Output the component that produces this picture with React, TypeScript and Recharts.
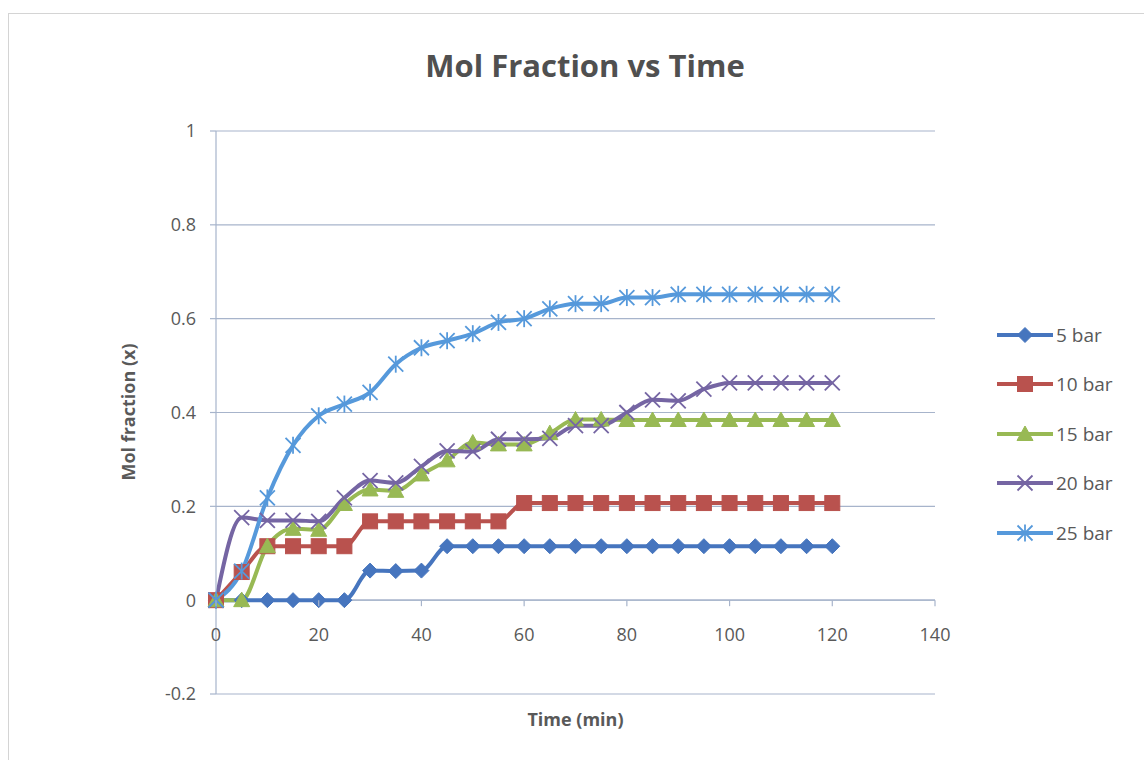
import React from 'react';
import { LineChart, Line, XAxis, YAxis, CartesianGrid, ReferenceLine } from 'recharts';

const TIME = [0, 5, 10, 15, 20, 25, 30, 35, 40, 45, 50, 55, 60, 65, 70, 75, 80, 85, 90, 95, 100, 105, 110, 115, 120];
const BAR5 = [0, 0, 0, 0, 0, 0, 0.063, 0.062, 0.063, 0.115, 0.115, 0.115, 0.115, 0.115, 0.115, 0.115, 0.115, 0.115, 0.115, 0.115, 0.115, 0.115, 0.115, 0.115, 0.115];
const BAR10 = [0, 0.06, 0.115, 0.115, 0.115, 0.115, 0.168, 0.168, 0.168, 0.168, 0.168, 0.168, 0.207, 0.207, 0.207, 0.207, 0.207, 0.207, 0.207, 0.207, 0.207, 0.207, 0.207, 0.207, 0.207];
const BAR15 = [0, 0, 0.115, 0.152, 0.15, 0.205, 0.236, 0.233, 0.268, 0.298, 0.336, 0.332, 0.332, 0.356, 0.385, 0.385, 0.384, 0.384, 0.384, 0.384, 0.384, 0.384, 0.384, 0.384, 0.384];
const BAR20 = [0, 0.176, 0.17, 0.17, 0.168, 0.218, 0.255, 0.25, 0.285, 0.318, 0.317, 0.343, 0.343, 0.345, 0.372, 0.372, 0.4, 0.427, 0.425, 0.45, 0.463, 0.463, 0.463, 0.463, 0.463];
const BAR25 = [0, 0.062, 0.218, 0.33, 0.393, 0.418, 0.443, 0.503, 0.538, 0.553, 0.568, 0.592, 0.6, 0.621, 0.632, 0.632, 0.645, 0.645, 0.652, 0.652, 0.652, 0.652, 0.652, 0.652, 0.652];

const SERIES_NAMES = ['5 bar', '10 bar', '15 bar', '20 bar', '25 bar'];
const SERIES_KEYS = ['b5', 'b10', 'b15', 'b20', 'b25'];
const SERIES_VALUES = [BAR5, BAR10, BAR15, BAR20, BAR25];
const SERIES_COLORS = ['#4675BE', '#B9524E', '#98B954', '#7565A3', '#5699DB'];
const SERIES_SHAPES = ['diamond', 'square', 'triangle', 'x', 'star'];

const X_TICKS = [0, 20, 40, 60, 80, 100, 120, 140];
const Y_TICKS = [-0.2, 0, 0.2, 0.4, 0.6, 0.8, 1];

const data = TIME.map((t, i) => {
  const row: any = { t };
  SERIES_KEYS.forEach((k, j) => { row[k] = SERIES_VALUES[j][i]; });
  return row;
});

const W = 1144;
const H = 760;
const PLOT_LEFT = 216;
const PLOT_RIGHT = 935;
const PLOT_TOP = 131;
const PLOT_BOTTOM = 694;
const YAXIS_W = 80;
const XAXIS_H = 50;
const ZERO_Y = PLOT_TOP + (PLOT_BOTTOM - PLOT_TOP) * (1 / 1.2);

const FONT = '"Open Sans", "Noto Sans", sans-serif';
const TEXT = '#595959';
const GRID = '#A7B4CB';

function Marker({ shape, color, cx, cy }: { shape: string; color: string; cx: number; cy: number }) {
  if (cx == null || cy == null || isNaN(cx) || isNaN(cy)) return null;
  switch (shape) {
    case 'diamond':
      return <polygon points={`${cx},${cy - 7.5} ${cx + 7.5},${cy} ${cx},${cy + 7.5} ${cx - 7.5},${cy}`} fill={color} stroke={color} strokeWidth={1} />;
    case 'square':
      return <rect x={cx - 7.5} y={cy - 7.5} width={15} height={15} fill={color} stroke={color} strokeWidth={1} />;
    case 'triangle':
      return <polygon points={`${cx},${cy - 8} ${cx + 8},${cy + 6.5} ${cx - 8},${cy + 6.5}`} fill={color} stroke={color} strokeWidth={1} />;
    case 'x':
      return (
        <g stroke={color} strokeWidth={1.8}>
          <line x1={cx - 7.5} y1={cy - 7.5} x2={cx + 7.5} y2={cy + 7.5} />
          <line x1={cx - 7.5} y1={cy + 7.5} x2={cx + 7.5} y2={cy - 7.5} />
        </g>
      );
    case 'star':
    default:
      return (
        <g stroke={color} strokeWidth={1.8}>
          <line x1={cx - 7.5} y1={cy - 7.5} x2={cx + 7.5} y2={cy + 7.5} />
          <line x1={cx - 7.5} y1={cy + 7.5} x2={cx + 7.5} y2={cy - 7.5} />
          <line x1={cx} y1={cy - 8.5} x2={cx} y2={cy + 8.5} />
        </g>
      );
  }
}

const makeDot = (shape: string, color: string) => (props: any) => (
  <Marker key={`${shape}-${props.index}`} shape={shape} color={color} cx={props.cx} cy={props.cy} />
);

function XTick(props: any) {
  const { x, payload } = props;
  return (
    <g>
      <line x1={x} x2={x} y1={ZERO_Y} y2={ZERO_Y + 6} stroke={GRID} strokeWidth={1.2} />
      <text x={x} y={ZERO_Y + 41} textAnchor="middle" fill={TEXT} fontSize={18} fontFamily={FONT}>
        {payload.value}
      </text>
    </g>
  );
}

function LegendBlock() {
  return (
    <div style={{ position: 'absolute', left: 997, top: 310, width: 140, fontFamily: FONT }}>
      {SERIES_NAMES.map((name, i) => (
        <div key={name} style={{ display: 'flex', alignItems: 'center', height: 49.5 }}>
          <svg width={56} height={20} style={{ display: 'block' }}>
            <line x1={0} y1={10} x2={56} y2={10} stroke={SERIES_COLORS[i]} strokeWidth={4} />
            <Marker shape={SERIES_SHAPES[i]} color={SERIES_COLORS[i]} cx={28} cy={10} />
          </svg>
          <span style={{ fontSize: 19, color: TEXT, marginLeft: 3 }}>{name}</span>
        </div>
      ))}
    </div>
  );
}

export default function App() {
  return (
    <div style={{ position: 'absolute', left: 0, top: 0, width: W, height: H, background: '#fff' }}>
      <div
        style={{
          position: 'absolute', left: 8, top: 13, width: W - 8, height: H - 13,
          borderLeft: '1px solid #d4d4d4', borderTop: '1px solid #d4d4d4', boxSizing: 'border-box',
        }}
      />
      <LineChart
        width={W}
        height={H}
        data={data}
        margin={{ top: PLOT_TOP, right: W - PLOT_RIGHT, bottom: H - PLOT_BOTTOM - XAXIS_H, left: PLOT_LEFT - YAXIS_W }}
        style={{ position: 'absolute', left: 0, top: 0 }}
      >
        <CartesianGrid vertical={false} stroke={GRID} strokeWidth={1.2} />
        <XAxis
          dataKey="t"
          type="number"
          domain={[0, 140]}
          ticks={X_TICKS}
          axisLine={false}
          tickLine={false}
          height={XAXIS_H}
          tick={<XTick />}
          interval={0}
          label={{ value: 'Time (min)', position: 'insideBottom', offset: 18, fill: TEXT, fontSize: 18, fontWeight: 700, fontFamily: FONT }}
        />
        <YAxis
          type="number"
          domain={[-0.2, 1]}
          ticks={Y_TICKS}
          width={YAXIS_W}
          axisLine={{ stroke: GRID, strokeWidth: 1.2 }}
          tickLine={{ stroke: GRID, strokeWidth: 1.2 }}
          tickSize={6}
          tickMargin={14}
          interval={0}
          tick={{ fill: TEXT, fontSize: 18, fontFamily: FONT }}
        />
        <ReferenceLine y={0} stroke={GRID} strokeWidth={1.4} />
        {SERIES_KEYS.map((k, i) => (
          <Line
            key={k}
            dataKey={k}
            name={SERIES_NAMES[i]}
            type="monotone"
            stroke={SERIES_COLORS[i]}
            strokeWidth={4}
            dot={makeDot(SERIES_SHAPES[i], SERIES_COLORS[i])}
            activeDot={false}
            isAnimationActive={false}
          />
        ))}
      </LineChart>
      <LegendBlock />
      <div
        style={{
          position: 'absolute', left: 385, top: 44, width: 400, textAlign: 'center',
          fontFamily: FONT, fontWeight: 700, fontSize: 31, color: '#505050', whiteSpace: 'nowrap',
        }}
      >
        Mol Fraction vs Time
      </div>
      <div style={{ position: 'absolute', left: 128, top: 412, width: 0, height: 0 }}>
        <div
          style={{
            position: 'absolute', left: 0, top: 0, transform: 'translate(-50%, -50%) rotate(-90deg)',
            fontFamily: FONT, fontWeight: 700, fontSize: 18, color: TEXT, whiteSpace: 'nowrap',
          }}
        >
          Mol fraction (x)
        </div>
      </div>
    </div>
  );
}
